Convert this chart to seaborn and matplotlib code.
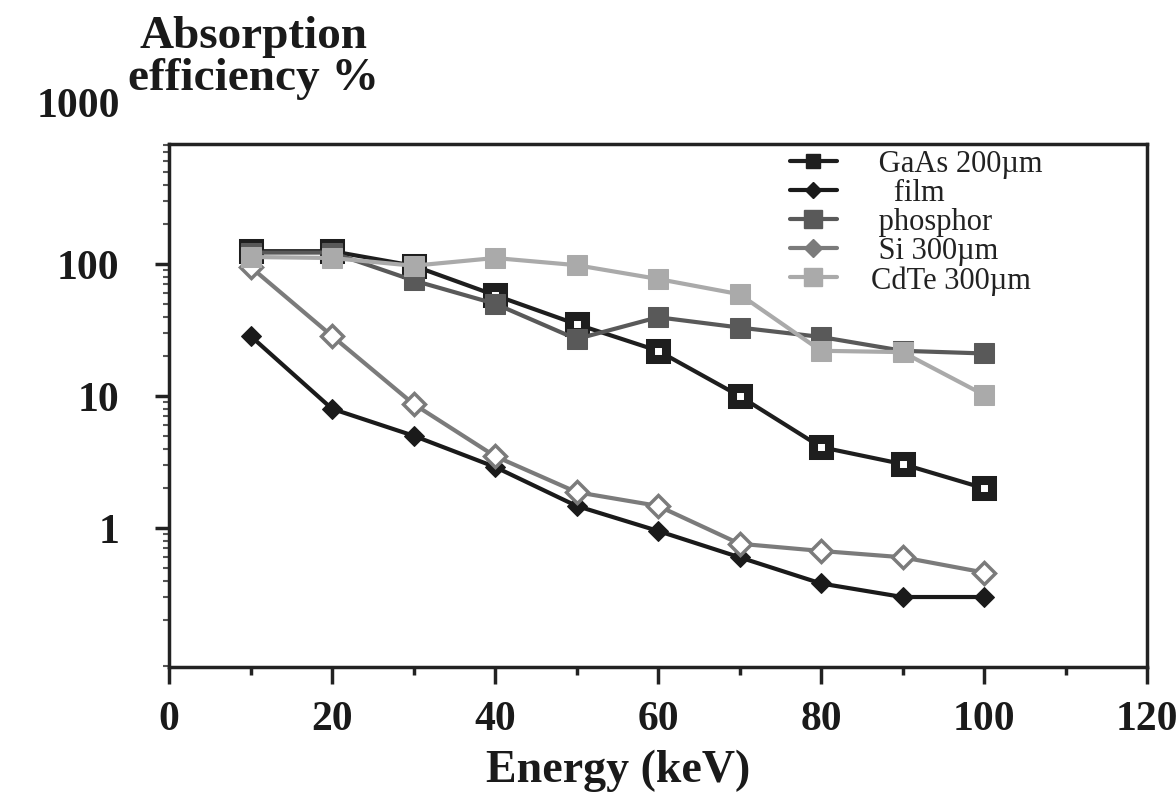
import numpy as np
import pandas as pd
import matplotlib
matplotlib.use("Agg")
import matplotlib.pyplot as plt
import matplotlib.transforms as mtransforms
from matplotlib.ticker import FixedLocator, NullFormatter, LogLocator
import seaborn as sns

# ---- data ----
energy = [10, 20, 30, 40, 50, 60, 70, 80, 90, 100]
gaas_200 = [125, 125, 97, 58, 35, 22, 10.0, 4.1, 3.05, 2.0]
film = [28.5, 8.0, 5.0, 2.9, 1.47, 0.95, 0.60, 0.38, 0.30, 0.30]
phosphor = [122, 122, 75, 50, 27, 39.5, 33, 28, 22, 21]
si_300 = [95, 28.5, 8.7, 3.5, 1.87, 1.47, 0.76, 0.67, 0.60, 0.46]
cdte_300 = [113, 111, 97, 111, 98, 77, 59, 22, 21.5, 10.2]

series_labels = [" GaAs 200µm", "   film", " phosphor", " Si 300µm", "CdTe 300µm"]
y_ticks = [1, 10, 100]
y_ticklabels = ["1", "10", "100"]
x_ticks = [0, 20, 40, 60, 80, 100, 120]

sns.set_theme(style="white")
plt.rcParams["font.family"] = ["Liberation Serif", "DejaVu Serif"]

fig = plt.figure(figsize=(11.76, 8.04), dpi=100)
ax = fig.add_axes([169 / 1176, 1 - 668 / 804, (1147 - 169) / 1176, (668 - 145) / 804])

styles = [
    dict(color="#1e1e1e", marker="s", markersize=12, markerfacecolor="white",
         markeredgecolor="#1e1e1e", markeredgewidth=6.5, linewidth=3),
    dict(color="#1a1a1a", marker="D", markersize=10, markerfacecolor="#1a1a1a",
         markeredgecolor="#1a1a1a", linewidth=3),
    dict(color="#595959", marker="s", markersize=15, markerfacecolor="#595959",
         markeredgecolor="#595959", linewidth=3),
    dict(color="#7b7b7b", marker="D", markersize=11, markerfacecolor="white",
         markeredgecolor="#7b7b7b", markeredgewidth=2.5, linewidth=3),
    dict(color="#aaaaaa", marker="s", markersize=15, markerfacecolor="#aaaaaa",
         markeredgecolor="#aaaaaa", linewidth=3),
]
legend_faces = ["#1e1e1e", "#1a1a1a", "#595959", "#7b7b7b", "#aaaaaa"]
all_series = [gaas_200, film, phosphor, si_300, cdte_300]

for vals, lab, st in zip(all_series, series_labels, styles):
    df = pd.DataFrame({"Energy": energy, "Eff": vals})
    sns.lineplot(data=df, x="Energy", y="Eff", ax=ax, label=lab, **st)

ax.set_yscale("log")
ax.set_xlim(0, 120)
ax.set_ylim(0.0885, 811)

ax.xaxis.set_major_locator(FixedLocator(x_ticks))
ax.xaxis.set_minor_locator(FixedLocator(list(range(10, 120, 20))))
ax.set_xticklabels([str(v) for v in x_ticks])
ax.yaxis.set_major_locator(FixedLocator(y_ticks))
ax.set_yticklabels(y_ticklabels)
ax.yaxis.set_minor_locator(LogLocator(base=10, subs=np.arange(2, 10)))
ax.yaxis.set_minor_formatter(NullFormatter())

ax.tick_params(axis="x", which="major", direction="out", length=12, width=2.5,
               color="#222222", labelsize=30, pad=12, bottom=True)
ax.tick_params(axis="x", which="minor", direction="out", length=6, width=2.5,
               color="#222222", bottom=True)
ax.tick_params(axis="y", which="major", direction="out", length=10, width=2.5,
               color="#222222", labelsize=30, pad=26, left=True)
ax.tick_params(axis="y", which="minor", direction="out", length=4, width=1.5,
               color="#555555", left=True)
for lbl in ax.get_xticklabels() + ax.get_yticklabels():
    lbl.set_fontweight("bold")
    lbl.set_color("#1a1a1a")

# label for 1000 sits above the frame
trans = mtransforms.offset_copy(
    mtransforms.blended_transform_factory(ax.transAxes, ax.transData),
    fig=fig, x=-49, y=26, units="dots")
ax.text(0.0, 1000, "1000", transform=trans, ha="right", va="center",
        fontsize=30, fontweight="bold", color="#1a1a1a")

for sp in ax.spines.values():
    sp.set_visible(True)
    sp.set_linewidth(2.5)
    sp.set_color("#222222")

ax.set_xlabel("")
ax.set_ylabel("")
fig.text(618 / 1176, 1 - 771 / 804, "Energy (keV)", ha="center", va="center",
         fontsize=33, fontweight="bold", color="#1a1a1a")
fig.text(253 / 1176, 1 - 58 / 804, "Absorption\nefficiency %", ha="center", va="center",
         fontsize=34, fontweight="bold", color="#1a1a1a", linespacing=1.0)

leg = ax.legend(loc="upper left", bbox_to_anchor=(0.619, 1.019), frameon=False,
                fontsize=22, handlelength=1.55, handletextpad=1.1, labelspacing=0.0,
                borderpad=0.0, markerscale=0.85)
for t in leg.get_texts():
    t.set_color("#222222")
for h, fc in zip(leg.legend_handles, legend_faces):
    h.set_markerfacecolor(fc)
    h.set_markeredgecolor(fc)
    h.set_markeredgewidth(1.0)

fig.savefig("out.png", dpi=100, facecolor="white")
